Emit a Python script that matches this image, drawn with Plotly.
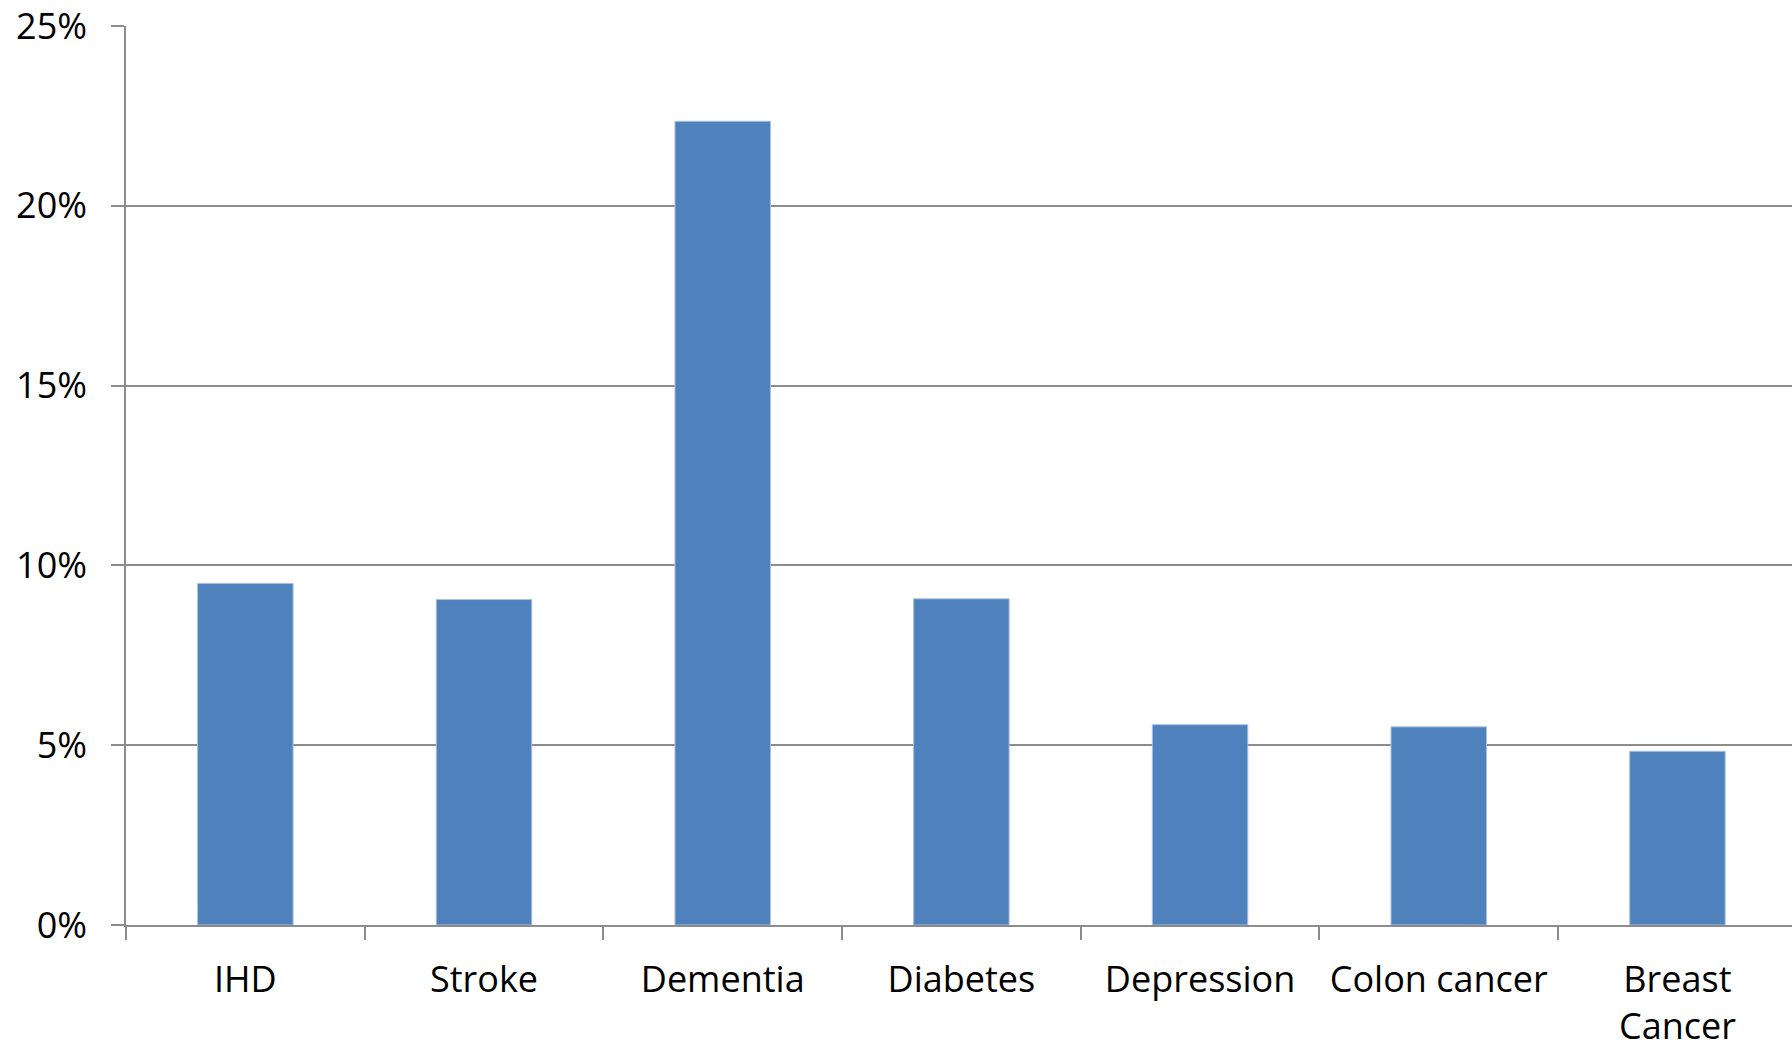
import plotly.graph_objects as go

# Share of cases attributable to the risk factor, by condition (%)
categories = ["IHD", "Stroke", "Dementia", "Diabetes", "Depression", "Colon cancer", "Breast<br>Cancer"]
values = [9.5, 9.05, 22.35, 9.07, 5.57, 5.51, 4.83]
y_ticks = [0, 5, 10, 15, 20, 25]

BAR = "#4F81BD"
GRID = "#8C8C8C"
FONT = "Open Sans"

fig = go.Figure(
    go.Bar(
        x=categories,
        y=values,
        marker=dict(color=BAR, line=dict(color="#A9C0DE", width=1)),
        hoverinfo="skip",
    )
)

fig.update_layout(
    width=1792,
    height=1050,
    margin=dict(l=126, r=0, t=26, b=125),
    paper_bgcolor="white",
    plot_bgcolor="white",
    bargap=0.6,
    showlegend=False,
    font=dict(family=FONT, size=36, color="black"),
)

fig.update_xaxes(
    type="category",
    range=[-0.5, 6.48],
    showline=True,
    linecolor=GRID,
    linewidth=1.5,
    ticks="outside",
    tickson="boundaries",
    ticklen=13,
    tickcolor=GRID,
    tickwidth=1.5,
    showgrid=False,
    ticklabelstandoff=22,
)

fig.update_yaxes(
    range=[0, 25],
    tickvals=y_ticks,
    ticktext=[f"{v}%" for v in y_ticks],
    showgrid=True,
    gridcolor=GRID,
    gridwidth=1.5,
    zeroline=False,
    showline=True,
    linecolor=GRID,
    linewidth=1.5,
    ticks="outside",
    ticklen=13,
    tickcolor=GRID,
    tickwidth=1.5,
    ticklabelstandoff=17,
)

fig.write_html("out.html")
